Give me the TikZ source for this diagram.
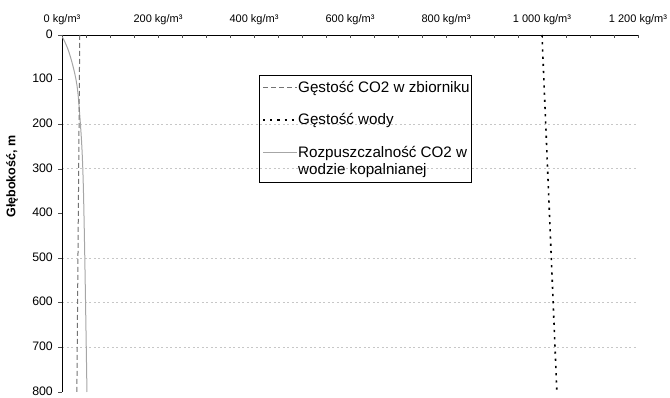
\documentclass[tikz,border=0pt]{standalone}
\usepackage{fontspec}
\setmainfont{Liberation Sans}
\begin{document}
\begin{tikzpicture}[x=1pt,y=1pt,
  axisline/.style={black,line width=0.8pt},
  tickline/.style={black!70,line width=0.6pt},
  gridline/.style={black!22,line width=0.9pt,dash pattern=on 2pt off 2.5pt},
  co2line/.style={black!55,line width=1pt,dash pattern=on 5pt off 3pt},
  waterline/.style={black,line width=1.6pt,dash pattern=on 2.2pt off 5pt},
  solline/.style={black!35,line width=1pt},
  xlab/.style={font=\fontsize{11}{13}\selectfont,inner sep=0pt},
  ylab/.style={font=\fontsize{12.3}{14}\selectfont,inner sep=0pt,anchor=east},
  legtext/.style={font=\fontsize{15.2}{17}\selectfont,inner sep=0pt,anchor=base west,align=left},
  legbox/.style={draw=black,line width=0.7pt,minimum width=212pt,minimum height=107pt,inner sep=0pt},
  axtitle/.style={rotate=90,inner sep=0pt,font=\bfseries\fontsize{12.5}{14}\selectfont}
]
\useasboundingbox (0,0) rectangle (670,397);

\begin{scope}[shift={(62,362)}]
\begin{scope}[x=0.48pt,y=-0.44625pt]
  \foreach \d in {200,300,500,600,700}
    \draw[gridline] (0,\d) -- (1200,\d);
  \coordinate (o) at (0,0);
  \coordinate (xend) at (1200,0);
  \coordinate (yend) at (0,800);
  \draw[axisline] (o) -- (xend);
  \draw[axisline] (o) -- (yend);
  \foreach \v in {0,50,...,1200}
    \draw[tickline] (\v,0) -- ++(0pt,-3pt);
  \foreach \v/\t in {0/0,200/200,400/400,600/600,800/800,1000/1 000,1200/1 200}
    \node[xlab] (xl\v) at ([yshift=15pt]\v,0) {\t\ kg/m³};
  \foreach \d in {0,100,...,800}{
    \draw[tickline] (0,\d) -- ++(-4pt,0pt);
    \node[ylab] (yl\d) at ([xshift=-9pt,yshift=1pt]0,\d) {\d};
  }
  \draw[solline] plot[smooth,tension=0.6] coordinates {(1,5) (15,40) (30,105) (37,180) (43,290) (47,470) (52,800)};
  \coordinate (c1) at (37,0);
  \coordinate (c2) at (31,800);
  \draw[co2line] (c1) -- (c2);
  \coordinate (w1) at (1000,0);
  \coordinate (w2) at (1031,800);
  \draw[waterline] (w1) -- (w2);
\end{scope}
\end{scope}

% y axis title
\node[axtitle] (ytitle) at (12,220.5) {Głębokość, m};

% legend
\node[legbox] (leg) at (365,268.5) {};
\coordinate (l1a) at (263,309);  \coordinate (l1b) at (297,309);
\coordinate (l2a) at (263,277); \coordinate (l2b) at (297,277);
\coordinate (l3a) at (263,244); \coordinate (l3b) at (297,244);
\draw[co2line] (l1a) -- (l1b);
\draw[waterline] (l2a) -- (l2b);
\draw[solline] (l3a) -- (l3b);
\node[legtext] (t1) at (298,304) {Gęstość CO2 w zbiorniku};
\node[legtext] (t2) at (298,272) {Gęstość wody};
\node[legtext] (t3) at (298,239) {Rozpuszczalność CO2 w};
\node[legtext] (t4) at (298,222) {wodzie kopalnianej};
\end{tikzpicture}
\end{document}
